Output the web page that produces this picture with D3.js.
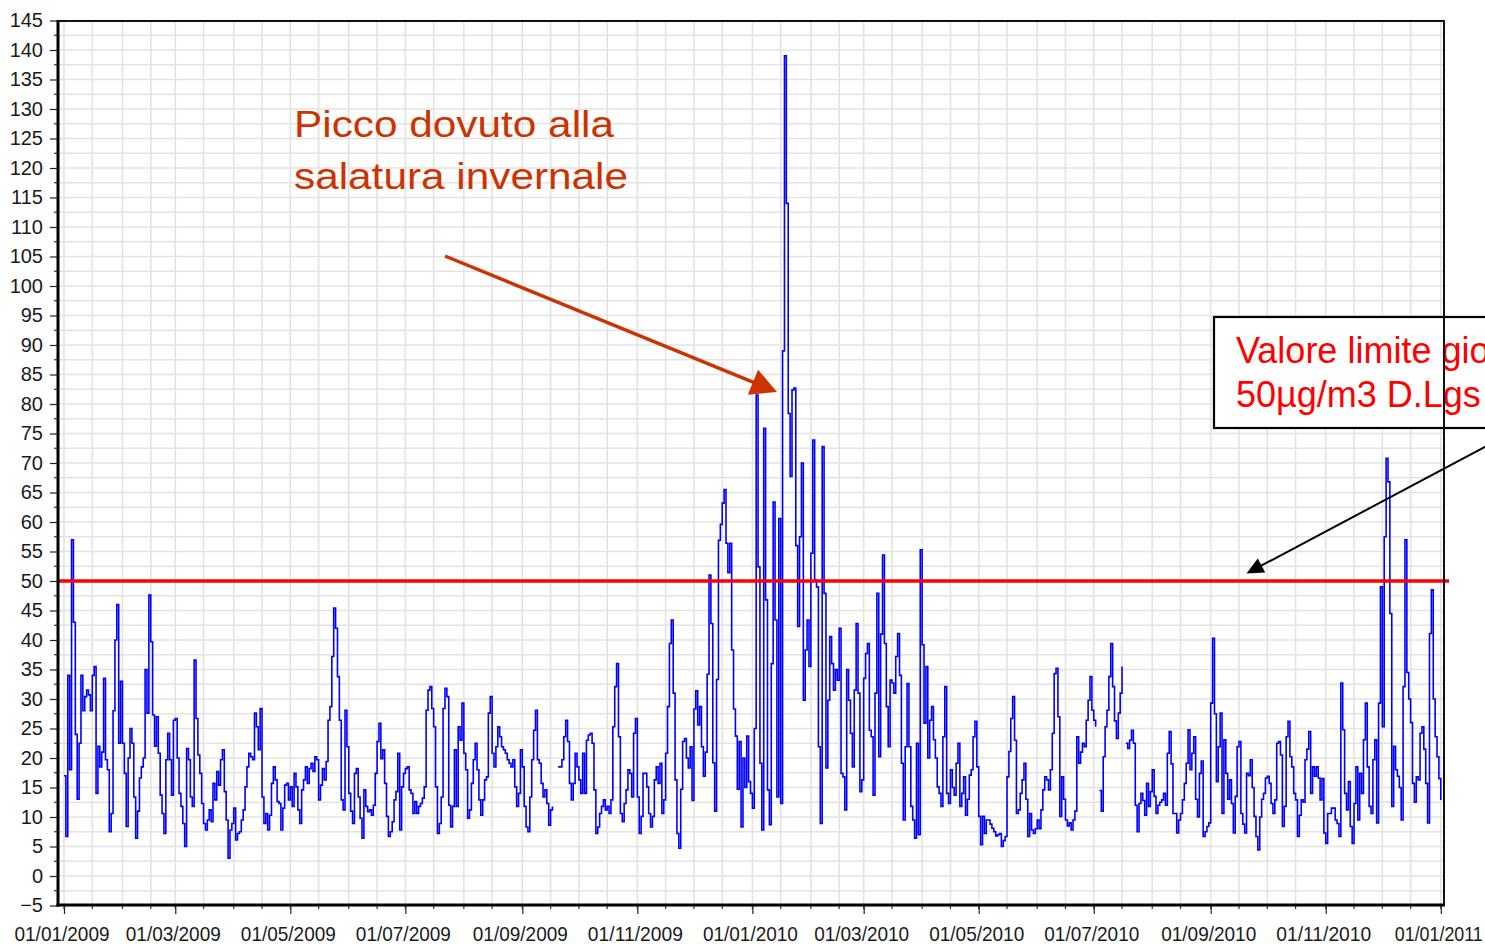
<!DOCTYPE html>
<html><head><meta charset="utf-8">
<script src="https://cdn.jsdelivr.net/npm/d3@7"></script>
<style>html,body{margin:0;padding:0;background:#fff;overflow:hidden}</style>
</head><body>
<svg id="chart" width="1485" height="944"></svg>
<script>
// ---------- DATA (daily values, from 01/01/2009) ----------
const startDay = "01/01/2009";
const endDay = "01/01/2011";
const pm10_2009_a = [17, 6.7, 34, 18, 57, 43, 24, 13, 22.5, 34,
 28, 30.4, 31.5, 30.7, 28, 34, 35.5, 14, 22, 18.5,
 21, 33.5, 19.7, 18, 7.5, 10.6, 28, 40, 46, 22.5,
 33, 22.5, 17.4, 8.4, 20, 25, 22.5, 13.4, 6.4, 11,
 16.6, 18.5, 20, 35, 27.6, 47.6, 39.7, 27.3, 22, 27,
 20.8, 13.7, 10.6, 7.2, 19.7, 24.2, 19.7, 13.7, 26.4, 26.7,
 20, 14, 11.8, 8.9, 5, 21.6, 19.7, 13.4, 11.8, 36.6,
 26.7, 20.5, 17.4, 12.3, 8.9, 7.8, 9.5, 11.2, 9.2, 15.7,
 12.9, 17.7, 15.4, 19.7, 21.4, 14.3, 9.5, 3, 7.8, 8.9];
const pm10_2009_b = [11.5, 6.1, 7.2, 7.5, 9.5, 11.2, 15.1, 18.5, 20.8, 20.2,
 19.7, 27.6, 25.3, 21.4, 28.4, 13.4, 8.9, 10.6, 7.8, 10.3,
 15.7, 18.5, 16.3, 12.6, 12.3, 7.8, 11.5, 15.4, 15.7, 12.9,
 15.1, 11.8, 17.4, 15.1, 11.2, 8.9, 14.6, 16.3, 18.5, 15.7,
 18.2, 19.1, 17.7, 20.2, 19.7, 12.9, 15.4, 18.2, 16.3, 19.4,
 26.4, 28.7, 37.2, 45.4, 42, 33.8, 26.4, 12.9, 11.2, 28.1,
 21.9, 14, 11, 8.9, 17.4, 18.2, 13.4, 9.8, 6.4, 14.6,
 11.8, 10.9, 11.2, 10.3, 12, 17.4, 22.8, 25.9, 19.9, 21.4,
 15.7, 10.1, 6.7, 7.5, 9.2, 12.9, 14.3, 20.8];
const pm10_2009_c = [7.8, 15.1, 17.4, 18.2, 18.5, 14.6, 14.0, 10.6, 12.6, 10.6,
 11.8, 12.3, 13.2, 15.1, 28.1, 31.5, 32.1, 28.4, 25.3, 15.1,
 7.2, 8.9, 13.4, 28.4, 31.8, 30.4, 12.0, 8.3, 11.8, 21.4,
 11.8, 25.3, 23.0, 29.3, 20.8, 18.0, 9.8, 11.2, 15.7, 19.7,
 22.5, 18.0, 12.9, 10.3, 12.9, 16.3, 16.8, 27.6, 30.4, 20.8,
 18.5, 21.9, 25.3, 23.6, 21.9, 21.4, 20.8, 19.7, 19.1, 18.5,
 19.7, 15.1, 11.8, 14.0, 21.4, 18.5, 11.8, 8.3, 7.5, 13.4,
 19.7, 24.7, 28.1, 19.7, 19.1, 15.7, 13.4, 14.6, 12.3, 8.6,
 11.2, 11.8];
const pm10_2009_d = [null, null,
 18.5, 18.5, 19.7, 23.6, 26.4, 22.8, 15.7, 12.9, 15.7, 20.8,
 18.5, 16.3, 14.0, 20.8, 14.0, 23.0, 23.9, 24.2, 22.5, 14.6,
 7.2, 8.3, 10.6, 11.8, 12.9, 11.2, 11.8, 10.6, 12.9, 25.3,
 32.1, 36.0, 23.6, 10.6, 9.2, 12.3, 14.6, 18.0, 17.4, 13.4,
 24.2, 26.7, 13.4, 7.2, 10.1, 17.4, 17.4, 15.1, 10.6, 8.3,
 10.1, 16.3, 18.5, 15.7, 19.1, 10.6, 12.9, 20.8, 28.7, 39.4,
 43.4, 31.0, 16.3, 7.2, 4.7];
const pm10_2009_e = [14.7, 22.8, 23.3, 20, 18.3, 21.9, 12.8, 28.3, 31.4, 25.6,
 28.7, 21.9, 16.9, 21, 34.2, 51, 42.8, 19.2, 11, 33.3,
 56.9, 59.6, 63.2, 65.5, 56.4, 51.4, 56.4, 38.3, 28.3, 23.7,
 14.7, 22.8, 8.3, 20, 15, 23.7, 16, 14, 11.5];
const pm10_2010_a = [25, 81.5, 52.4, 19.1, 7.8, 75.9, 46.8, 14.6, 8.7, 36,
 63.4, 43.4, 13.4, 60.6, 12.3, 89, 139, 114, 78.4, 67.7,
 82.4, 82.7, 56, 42.3, 57.5, 70, 29.8, 38.3, 43.4, 35.5,
 54.7, 73.9, 50.2, 49, 21.9, 8.9, 72.8, 47.9, 18.3, 29.8,
 40.6, 36, 31.5, 35, 33.2, 42, 17.4, 16.8, 11.2, 35,
 29.8, 24.2, 18.5, 31.5, 42.8, 31, 14.3, 16.3, 33.5, 37.7,
 39.4, 24.7, 23.6, 13.7, 31, 47.9, 20.2, 41, 54.4, 39.4,
 28.7, 21.9, 33.2, 32.7, 31, 37.2, 41.1, 34];
const pm10_2010_b = [19.1, 9.5, 21.9, 32.6, 21.9, 11.8, 9.5, 6.4, 22.5, 7,
 55.3, 39.2, 25.9, 35.5, 20, 26.4, 28.7, 23.1, 20, 15.1,
 14, 11.8, 23.6, 32.1, 14, 12.3, 18, 15, 13.7, 19.1,
 22.5, 11.8, 14, 16.8, 10.3, 13, 17.1, 18, 23.6, 26.2,
 18.5, 10.1, 5.3, 10.1, 7.2, 9.5, 9.5, 8.8, 8.1, 7.5,
 6.8, 7, 7.2, 5, 6, 6.7, 16.8, 21.1, 26.7, 30.4,
 23, 10.6, 11.2, 14, 16.3, 19.1, 13, 6.7, 10.6, 7.8,
 7.2, 8, 9.5, 8, 11.2, 14.6, 16.8, 16.3, 14.6, 18,
 24.2, 34.3, 35.2, 27, 10.1, 16.8, 13, 9.5, 8.5, 9,
 7.8, 9.5, 11, 23.6, 19.1, 21, 22.5, 21.9, 26.4, 29.8,
 33.8, 28.1, 26.4, 25.3, null, 14.5, 11, 20.2, 25.3, 28.1,
 33.8, 39.4, 32.1, 26.3, 23.3, 27.6, 31, 35.5, null, 22.5,
 21.6, 23, 24.7, 22.5, 12, 7.5, 12.3, 14, 12.8, 10.3,
 15.7, 11.8, 14.3, 18, 13.5, 10.6, 12];
const pm10_2010_c = [12.5, 12.9, 14, 12, 20.8, 24.5, 19, 10.6, 10.6, 7.3,
 9.5, 10.6, 12.9, 15.7, 19.1, 24.8, 18, 20.8, 23.6, 13,
 10, 17.4, 19.5, 6.7, 7.5, 8.4, 9, 29.3, 40.3, 27.5,
 16, 21.9, 27.6, 10.6, 23.1, 17.4, 13, 16.3, 12.3, 7.3,
 13.5, 21.9, 22.8, 10.6, 8.8, 7.3, 17.4, 17, 19.7, 15,
 10.1, 6.7, 4.4, 10, 13, 14, 16.6, 16.9, 15.7, 12.3,
 10.6, 12.9, 22.5, 22.8, 20.5, 8.4, 11.8, 23.6, 26.2, 20.2,
 18.5, 14, 12.9, 6.7, 10.3, 12.9, 12.5, 19.7, 21.5, 24.5,
 14, 18.5, 16.9, 18.5, 16.6, 12.9, 16.5, 7.3, 5.5, 10.6,
 10.6, 11.5, 11.5, 9.5, 8.9, 6.7, 32.7, 24.8, 14, 11.2,
 16, 8.4, 5.5, 12.3, 18.5, 9.5, 17.4, 14, 23.1, 29.3,
 18.5, 11.8, 10.6, 19.7, 23.1, 9, 29.3, 49, 25.3, 57.5,
 70.8, 66.8, 44.5, 11.8, 22, 18, 16.9, 15, 9.5, 32.1,
 57, 34.5, 30, 26, 15.7, 12.5, 16.8, 16.3, 24.2, 25.3,
 21.5, 15.7, 9, 41.1, 48.5, 30, 23.6, 20.2, 16.5, 12.9];

const yTickValues = [-5,0,5,10,15,20,25,30,35,40,45,50,55,60,65,70,75,80,85,90,95,100,105,110,115,120,125,130,135,140,145];
const xTickLabels = ["01/01/2009","01/03/2009","01/05/2009","01/07/2009","01/09/2009","01/11/2009",
  "01/01/2010","01/03/2010","01/05/2010","01/07/2010","01/09/2010","01/11/2010","01/01/2011"];
const limitValue = 50;
const limitText = ["Valore limite giornaliero", "50µg/m3 D.Lgs 155/2010"];
const peakText = ["Picco dovuto alla", "salatura invernale"];

// ---------- BUILD ----------
const parse = d3.utcParse("%d/%m/%Y");
const fmt = d3.utcFormat("%d/%m/%Y");
const t0 = parse(startDay), t1 = parse(endDay);
const values = [].concat(pm10_2009_a, pm10_2009_b, pm10_2009_c, pm10_2009_d, pm10_2009_e,
                         pm10_2010_a, pm10_2010_b, pm10_2010_c);
const data = values.map((v, i) => ({date: d3.utcDay.offset(t0, i), v}));

const P = {l: 58, r: 1444, t: 21, b: 905};
const x = d3.scaleUtc().domain([t0, t1]).range([64, 1440.8]);
const y = d3.scaleLinear().domain([-5, 145]).range([905.5, 20.5]);
const FONT = "'Liberation Sans', Arial, sans-serif";

const svg = d3.select("#chart");
svg.append("rect").attr("width",1485).attr("height",944).attr("fill","#fff");
svg.append("defs").append("clipPath").attr("id","clip")
  .append("rect").attr("x",P.l).attr("y",P.t).attr("width",P.r-P.l).attr("height",P.b-P.t);

// grid
const hGrid = d3.range(-5, 145.01, 2.5);
const vGrid = [];
for (let m = d3.utcMonth.floor(d3.utcMonth.offset(t0,-1)); m <= d3.utcMonth.offset(t1,1); m = d3.utcMonth.offset(m,1)) {
  vGrid.push(m); vGrid.push(d3.utcDay.offset(m, 15));
}
const vG = vGrid.filter(d => x(d) > P.l + 1 && x(d) < P.r - 1);
const grid = svg.append("g").attr("stroke","#e3e3e3").attr("stroke-width",1.6);
grid.selectAll(".h").data(hGrid).join("line")
  .attr("x1",P.l).attr("x2",P.r).attr("y1",d=>y(d)).attr("y2",d=>y(d));
grid.selectAll(".v").data(vG).join("line")
  .attr("y1",P.t).attr("y2",P.b).attr("x1",d=>x(d)).attr("x2",d=>x(d));

// data line
const line = d3.line().defined(d => d.v != null).x(d => x(d.date)).y(d => y(d.v)).curve(d3.curveStepAfter);
svg.append("path").datum(data).attr("clip-path","url(#clip)")
  .attr("d", line).attr("fill","none").attr("stroke","#0000ff").attr("stroke-width",1.6);

// limit line
svg.append("line").attr("x1",P.l).attr("x2",1449).attr("y1",y(limitValue)).attr("y2",y(limitValue))
  .attr("stroke","#ff0000").attr("stroke-width",3.5);

// axes
const yAxis = d3.axisLeft(y).tickValues(yTickValues).tickSize(8).tickSizeOuter(0).tickPadding(7);
const gy = svg.append("g").attr("transform",`translate(${P.l},0)`).call(yAxis);
gy.select(".domain").remove();
gy.selectAll("line").attr("stroke","#222").attr("stroke-width",1.2);
gy.selectAll("text").attr("font-family",FONT).attr("font-size",20).attr("fill","#1a1a1a");
// minor y ticks
svg.append("g").selectAll("line").data(d3.range(-2.5, 145, 5)).join("line")
  .attr("x1",P.l-4).attr("x2",P.l).attr("y1",d=>y(d)).attr("y2",d=>y(d))
  .attr("stroke","#333").attr("stroke-width",1.2);

const xAxis = d3.axisBottom(x).tickValues(xTickLabels.map(parse)).tickFormat(fmt)
  .tickSize(9).tickSizeOuter(0).tickPadding(12);
const gx = svg.append("g").attr("transform",`translate(0,${P.b})`).call(xAxis);
gx.select(".domain").remove();
gx.selectAll("line").attr("stroke","#222").attr("stroke-width",1.2);
gx.selectAll("text").attr("font-family",FONT).attr("font-size",21).attr("fill","#1a1a1a")
  .attr("dx",-2.5)
  .attr("textLength",(d,i,n)=> i === n.length-1 ? 88 : 95).attr("lengthAdjust","spacingAndGlyphs");
// minor x ticks
svg.append("g").selectAll("line").data(vG).join("line")
  .attr("x1",d=>x(d)).attr("x2",d=>x(d)).attr("y1",P.b).attr("y2",P.b+4)
  .attr("stroke","#333").attr("stroke-width",1.2);

// annotation box (limit)
svg.append("rect").attr("x",1214).attr("y",317).attr("width",320).attr("height",111)
  .attr("fill","#fff").attr("stroke","#000").attr("stroke-width",2.2);
svg.append("g").selectAll("text").data(limitText).join("text")
  .attr("x",1236).attr("y",(d,i)=>363 + i*44).text(d=>d)
  .attr("font-family",FONT).attr("font-size",36).attr("fill","#ff0000");

// frame
svg.append("rect").attr("x",P.l).attr("y",P.t).attr("width",P.r-P.l).attr("height",P.b-P.t)
  .attr("fill","none").attr("stroke","#111").attr("stroke-width",2);
svg.append("line").attr("x1",P.l).attr("x2",P.l).attr("y1",P.t-1).attr("y2",P.b+1.5).attr("stroke","#000").attr("stroke-width",3);
svg.append("line").attr("x1",P.l-1.5).attr("x2",P.r+1).attr("y1",P.b).attr("y2",P.b).attr("stroke","#000").attr("stroke-width",3);

// arrows
function arrow(x0, y0, tx, ty, len, half, color, w) {
  const dx = tx - x0, dy = ty - y0, L = Math.hypot(dx, dy), ux = dx / L, uy = dy / L;
  const bx = tx - ux * len, by = ty - uy * len;
  svg.append("line").attr("x1",x0).attr("y1",y0).attr("x2",bx + ux*2).attr("y2",by + uy*2)
    .attr("stroke",color).attr("stroke-width",w);
  svg.append("path").attr("fill",color)
    .attr("d",`M${tx},${ty}L${bx - uy*half},${by + ux*half}L${bx + uy*half},${by - ux*half}Z`);
}
arrow(1515, 431, 1246.5, 573.5, 17, 8, "#000", 2);
arrow(445, 256, 777, 392, 26, 13.5, "#cc3300", 3.5);

// peak annotation text
const peakLen = [320, 334];
svg.append("g").selectAll("text").data(peakText).join("text")
  .attr("x",294).attr("y",(d,i)=>137 + i*52).text(d=>d)
  .attr("textLength",(d,i)=>peakLen[i]).attr("lengthAdjust","spacingAndGlyphs")
  .attr("font-family",FONT).attr("font-size",36).attr("fill","#cc3300");
</script>
</body></html>
